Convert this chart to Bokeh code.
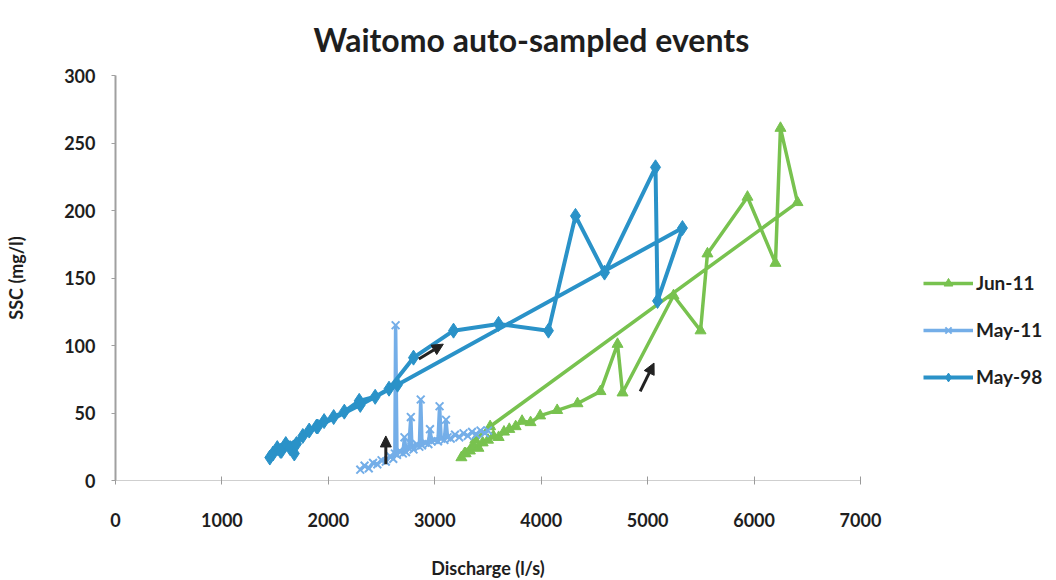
from bokeh.plotting import figure
from bokeh.models import (Range1d, FixedTicker, Legend, LegendItem, Arrow,
                          NormalHead, ColumnDataSource)
from bokeh.embed import file_html
from bokeh.resources import INLINE

# Jun-11 event: discharge (l/s) and suspended sediment concentration (mg/l)
jun11_q = [3250, 3290, 3330, 3370, 3410, 3450, 3500, 3550, 3600, 3650, 3700,
           3760, 3820, 3900, 3990, 4150, 4341, 4557, 4717, 4764, 5243, 5497,
           5562, 5938, 6201, 6248, 6408, 3520, 3380, 3280]
jun11_ssc = [17, 20, 22, 25, 24, 28, 30, 33, 32, 36, 38,
             40, 44, 43, 48, 52, 57, 66, 101, 65, 137, 111,
             168, 210, 161, 261, 206, 40, 30, 20]

# May-11 event
may11_q = [2300, 2340, 2380, 2420, 2460, 2500, 2540, 2580, 2610, 2625,
           2632, 2645, 2670, 2700, 2715, 2730, 2755, 2775, 2785, 2800,
           2830, 2855, 2868, 2880, 2910, 2940, 2955, 2970, 3000, 3030,
           3045, 3060, 3090, 3105, 3120, 3150, 3190, 3230, 3270, 3310,
           3350, 3390, 3430, 3470, 3500]
may11_ssc = [8, 11, 9, 13, 12, 15, 14, 18, 16, 20,
             115, 19, 22, 20, 32, 21, 24, 47, 25, 23,
             27, 25, 60, 26, 28, 27, 38, 29, 30, 29,
             55, 31, 30, 45, 32, 31, 34, 32, 35, 33,
             36, 34, 37, 35, 37]

# May-98 event
may98_q = [1450, 1480, 1520, 1560, 1600, 1640, 1680, 1700, 1760, 1820,
           1890, 1960, 2050, 2150, 2290, 2440, 2570, 2800, 3176, 3599,
           4068, 4322, 4595, 5074, 5093, 5327, 2650, 2300, 1900, 1550]
may98_ssc = [17, 20, 24, 22, 27, 24, 20, 27, 33, 37,
             40, 44, 47, 51, 59, 62, 68, 91, 111, 116,
             111, 196, 154, 232, 133, 187, 71, 56, 40, 22]

# direction-of-travel arrows (discharge, SSC)
arrow_q0 = [2540, 2850, 4930]
arrow_s0 = [12, 90, 66]
arrow_q1 = [2540, 3080, 5060]
arrow_s1 = [33, 101, 87]

x_ticks = [0, 1000, 2000, 3000, 4000, 5000, 6000, 7000]
y_ticks = [0, 50, 100, 150, 200, 250, 300]

FONT = "Lato"
TXT = "#1e1e1e"
C_JUN = "#78c24f"
C_MAY11 = "#74aee8"
C_MAY98 = "#2a92c8"

p = figure(frame_width=745, frame_height=405, output_backend="svg",
           toolbar_location=None,
           x_range=Range1d(0, 7000), y_range=Range1d(0, 300),
           min_border_left=115, min_border_right=196,
           min_border_top=75, min_border_bottom=100)

p.title.text = "Waitomo auto-sampled events"
p.title.text_font = FONT
p.title.text_font_size = "32px"
p.title.text_font_style = "bold"
p.title.text_color = TXT
p.title.align = "left"
p.title.offset = 198
p.title.standoff = 33

p.outline_line_color = None
p.background_fill_color = "white"
p.border_fill_color = "white"
p.xgrid.visible = False
p.ygrid.visible = False

for ax in (p.xaxis[0], p.yaxis[0]):
    ax.major_label_text_font = FONT
    ax.major_label_text_font_size = "18px"
    ax.major_label_text_font_style = "bold"
    ax.major_label_text_color = TXT
    ax.axis_label_text_font = FONT
    ax.axis_label_text_font_size = "18px"
    ax.axis_label_text_font_style = "bold"
    ax.axis_label_text_color = TXT
    ax.minor_tick_line_color = None

p.xaxis.ticker = FixedTicker(ticks=x_ticks)
p.yaxis.ticker = FixedTicker(ticks=y_ticks)
p.xaxis.axis_label = "Discharge (l/s)"
p.yaxis.axis_label = "SSC (mg/l)"
p.xaxis.axis_line_color = "#cfcfcf"
p.xaxis.major_tick_line_color = "#9a9a9a"
p.xaxis.major_tick_in = 4
p.xaxis.major_tick_out = 4
p.xaxis.major_label_standoff = 28
p.xaxis.axis_label_standoff = 27
p.yaxis.axis_line_color = "#a0a0a0"
p.yaxis.axis_line_width = 2
p.yaxis.major_tick_line_color = "#a0a0a0"
p.yaxis.major_tick_in = 0
p.yaxis.major_tick_out = 4
p.yaxis.major_label_standoff = 16
p.yaxis.axis_label_standoff = 34

src_jun = ColumnDataSource(dict(q=jun11_q, s=jun11_ssc))
src_m11 = ColumnDataSource(dict(q=may11_q, s=may11_ssc))
src_m98 = ColumnDataSource(dict(q=may98_q, s=may98_ssc))

l_jun = p.line("q", "s", source=src_jun, line_color=C_JUN, line_width=3.5)
m_jun = p.scatter("q", "s", source=src_jun, marker="triangle", size=11,
                  fill_color=C_JUN, line_color=C_JUN)

l_m11 = p.line("q", "s", source=src_m11, line_color=C_MAY11, line_width=3.5)
m_m11 = p.scatter("q", "s", source=src_m11, marker="x", size=11,
                  line_color=C_MAY11, line_width=2)

l_m98 = p.line("q", "s", source=src_m98, line_color=C_MAY98, line_width=4)
m_m98 = p.scatter("q", "s", source=src_m98, marker="diamond", size=15,
                  fill_color=C_MAY98, line_color=C_MAY98)

for q0, s0, q1, s1 in zip(arrow_q0, arrow_s0, arrow_q1, arrow_s1):
    p.add_layout(Arrow(x_start=q0, y_start=s0, x_end=q1, y_end=s1,
                       line_color="#222222", line_width=3,
                       end=NormalHead(size=11, fill_color="#222222",
                                      line_color="#222222")))

# legend in the right-hand panel, offset in screen pixels
legend = Legend(items=[LegendItem(label="Jun-11", renderers=[l_jun, m_jun]),
                       LegendItem(label="May-11", renderers=[l_m11, m_m11]),
                       LegendItem(label="May-98", renderers=[l_m98, m_m98])],
                location=(63, 92))
legend.label_text_font = FONT
legend.label_text_font_size = "19px"
legend.label_text_font_style = "bold"
legend.label_text_color = TXT
legend.glyph_width = 50
legend.glyph_height = 22
legend.spacing = 24
legend.label_standoff = 3
legend.border_line_color = None
legend.background_fill_alpha = 0
legend.margin = 0
legend.padding = 0
p.add_layout(legend, "right")

open("out.html", "w").write(file_html(p, INLINE))
